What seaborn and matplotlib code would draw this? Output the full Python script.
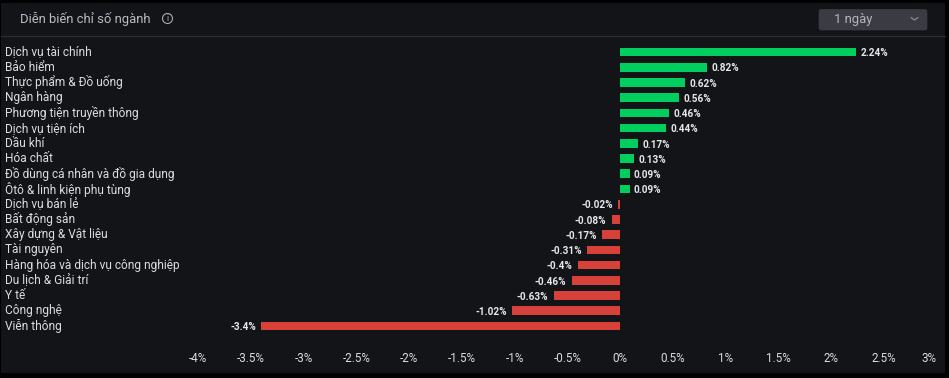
import pandas as pd
import matplotlib
matplotlib.use("Agg")
import matplotlib.pyplot as plt
from matplotlib.patches import Rectangle, FancyBboxPatch, Circle
from matplotlib.transforms import ScaledTranslation
import seaborn as sns

sectors = ["Dịch vụ tài chính", "Bảo hiểm", "Thực phẩm & Đồ uống", "Ngân hàng",
           "Phương tiện truyền thông", "Dịch vụ tiện ích", "Dầu khí", "Hóa chất",
           "Đồ dùng cá nhân và đồ gia dụng", "Ôtô & linh kiện phụ tùng", "Dịch vụ bán lẻ",
           "Bất động sản", "Xây dựng & Vật liệu", "Tài nguyên",
           "Hàng hóa và dịch vụ công nghiệp", "Du lịch & Giải trí", "Y tế", "Công nghệ",
           "Viễn thông"]
changes = [2.24, 0.82, 0.62, 0.56, 0.46, 0.44, 0.17, 0.13, 0.09, 0.09,
           -0.02, -0.08, -0.17, -0.31, -0.4, -0.46, -0.63, -1.02, -3.4]
x_ticks = [-4, -3.5, -3, -2.5, -2, -1.5, -1, -0.5, 0, 0.5, 1, 1.5, 2, 2.5, 3]

GREEN = "#00cf5f"
RED = "#d8403a"
PANEL = "#131417"
TEXT = "#dcdde0"

sns.set_style("dark")
plt.rcParams["font.family"] = ["Roboto", "DejaVu Sans"]

df = pd.DataFrame({"sector": sectors, "change": changes})
df["side"] = ["up" if v >= 0 else "down" for v in df["change"]]

W, H = 949, 378
fig = plt.figure(figsize=(W / 100, H / 100), dpi=100, facecolor="black")

# page furniture, in pixel coordinates
bg = fig.add_axes([0, 0, 1, 1])
bg.set_xlim(0, W)
bg.set_ylim(H, 0)
bg.axis("off")
bg.add_patch(Rectangle((1, 3), 944, 370, color=PANEL, lw=0))
bg.plot([1, 945], [36, 36], color="#2b2c2f", lw=1)
bg.text(20, 18.5, "Diễn biến chỉ số ngành", color="#b9bdc4", fontsize=9.4, va="center", ha="left")
bg.add_patch(Circle((167.5, 18.5), 5, fill=False, ec="#a8abb0", lw=0.8))
bg.text(167.5, 18.8, "i", color="#a8abb0", fontsize=6.5, va="center", ha="center")
bg.add_patch(FancyBboxPatch((819, 9.5), 108, 20.5, boxstyle="round,pad=0,rounding_size=2",
                            fc="#3a3b43", ec="#3a3b43", lw=0.5))
bg.text(853.5, 19.5, "1 ngày", color="#b4b7bd", fontsize=9.4, va="center", ha="center")
bg.plot([911, 914.5, 918], [17.5, 20, 17.5], color="#8b8d94", lw=0.9)

# main chart, axes edges follow the 0% and bar row positions
left, right = 198, 936.6
top, bottom = 44.4, 333.6
ax = fig.add_axes([left / W, 1 - bottom / H, (right - left) / W, (bottom - top) / H])
ax.patch.set_alpha(0)
sns.barplot(data=df, x="change", y="sector", hue="side", dodge=False, legend=False,
            palette={"up": GREEN, "down": RED}, width=0.57, saturation=1, linewidth=0, ax=ax)
ax.set_xlim(x_ticks[0], x_ticks[-1])
ax.set_ylim(len(sectors) - 0.5, -0.5)
ax.set_xlabel("")
ax.set_ylabel("")
ax.grid(False)
for s in ax.spines.values():
    s.set_visible(False)

ax.set_xticks(x_ticks)
ax.set_xticklabels([f"{t:g}%" for t in x_ticks])
ax.tick_params(axis="x", length=0, pad=13.5, labelsize=8.4, labelcolor=TEXT)
ax.get_xticklabels()[-1].set_ha("right")
ax.tick_params(axis="y", length=0, pad=139, labelsize=8.6, labelcolor=TEXT)
# row labels sit a little above the bar centres
shift_up = ScaledTranslation(0, 1.5 / 100, fig.dpi_scale_trans)
for lab in ax.get_yticklabels():
    lab.set_ha("left")
    lab.set_va("center_baseline")
    lab.set_transform(lab.get_transform() + shift_up)

for i, v in enumerate(changes):
    off = 3.2 if v >= 0 else -3.8
    ax.annotate(f"{v:g}%", (v, i), xytext=(off, -0.9), textcoords="offset points",
                ha="left" if v >= 0 else "right", va="center",
                color="#e6e7e9", fontsize=7.2, fontweight="bold")

fig.savefig("out.png", dpi=100, facecolor=fig.get_facecolor())
